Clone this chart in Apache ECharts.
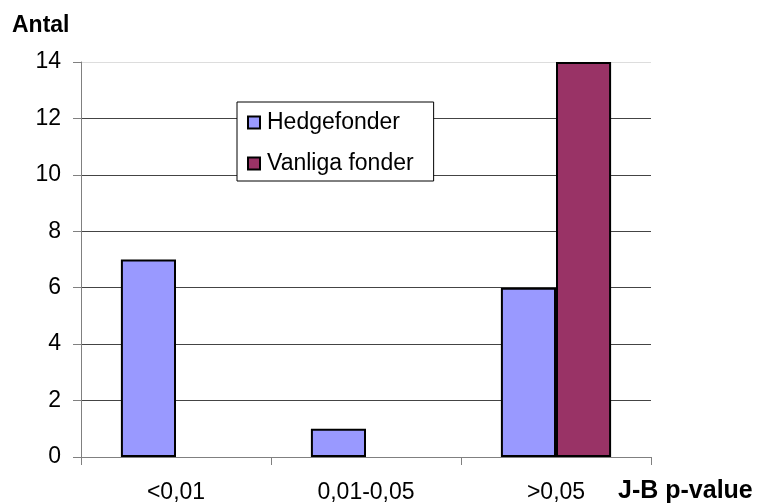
<!DOCTYPE html>
<html><head><meta charset="utf-8">
<script src="https://cdn.jsdelivr.net/npm/echarts@6/dist/echarts.min.js"></script>
<style>html,body{margin:0;padding:0;background:#fff}#c{width:760px;height:504px}</style>
</head><body><div id="c"></div>
<script>
const categories = ['<0,01', '0,01-0,05', '>0,05'];
const hedgefonder = [7, 1, 6];
const vanligaFonder = [0, 0, 14];
const yTicks = [0, 2, 4, 6, 8, 10, 12, 14];

const F = 'Liberation Sans, Arial, sans-serif';
const noZero = arr => arr.map(v => (v === 0 ? '-' : v));
const chart = echarts.init(document.getElementById('c'), null, {renderer: 'canvas'});
chart.setOption({
  animation: false,
  backgroundColor: '#fff',
  grid: {left: 81, right: 109, top: 62, bottom: 47, containLabel: false},
  legend: {
    orient: 'vertical', left: 237, top: 102,
    backgroundColor: '#fff', borderColor: '#000', borderWidth: 1,
    padding: [9, 20, 6, 10],
    itemWidth: 12, itemHeight: 12, itemGap: 18,
    icon: 'rect',
    textStyle: {fontFamily: F, fontSize: 23, color: '#000', padding: [0, 0, 0, 2]},
    data: ['Hedgefonder', 'Vanliga fonder']
  },
  xAxis: {
    type: 'category', data: categories,
    axisLine: {lineStyle: {color: '#808080', width: 1}},
    axisTick: {show: true, length: 8, alignWithLabel: false, lineStyle: {color: '#808080'}},
    axisLabel: {fontFamily: F, fontSize: 23, color: '#000', margin: 24}
  },
  yAxis: {
    type: 'value', min: yTicks[0], max: yTicks[yTicks.length - 1], interval: 2,
    axisLine: {show: true, lineStyle: {color: '#808080', width: 1}},
    axisTick: {show: true, length: 8, inside: false, lineStyle: {color: '#808080'}},
    axisLabel: {fontFamily: F, fontSize: 23, color: '#000', margin: 20},
    splitLine: {show: true, lineStyle: {color: ['#444', '#444', '#444', '#444', '#444', '#444', '#444', '#ddd'], width: 1}}
  },
  series: [
    {name: 'Hedgefonder', type: 'bar', data: noZero(hedgefonder), barGap: '0%', barCategoryGap: '42%',
     itemStyle: {color: '#9999ff', borderColor: '#000', borderWidth: 2}},
    {name: 'Vanliga fonder', type: 'bar', data: noZero(vanligaFonder),
     itemStyle: {color: '#993366', borderColor: '#000', borderWidth: 2}}
  ],
  graphic: [
    {type: 'text', left: 12, top: 14, style: {text: 'Antal', font: 'bold 23px ' + F, fill: '#000'}},
    {type: 'text', left: 618, top: 479, style: {text: 'J-B p-value', font: 'bold 25px ' + F, fill: '#000'}}
  ]
});
</script></body></html>
